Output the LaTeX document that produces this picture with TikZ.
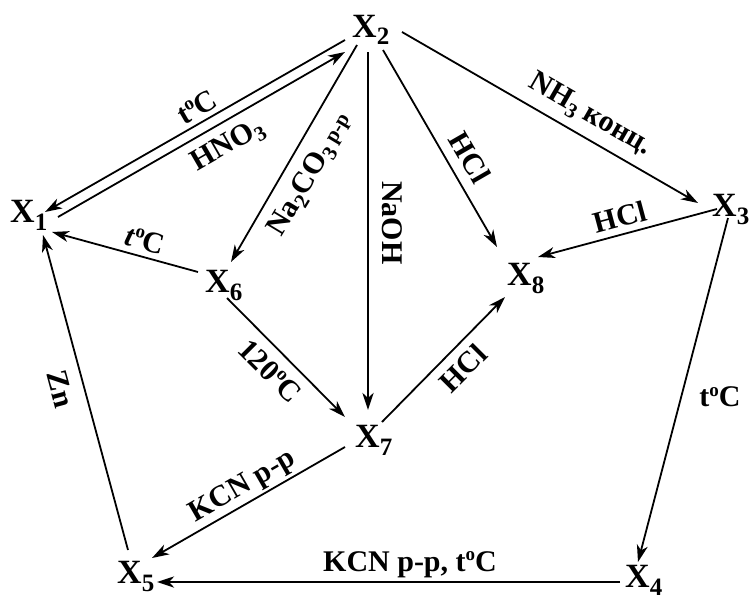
\documentclass[tikz,border=0pt]{standalone}
\usepackage{fontspec}
\setmainfont{Liberation Serif}
\usetikzlibrary{arrows.meta}
% species label X_n
\newcommand{\xsub}[1]{X\raisebox{-8pt}{\fontsize{25}{25}\selectfont #1}}
% subscript inside a reagent label
\newcommand{\lsub}[1]{\raisebox{-6pt}{\fontsize{21}{21}\selectfont #1}}
% small raised "o" of a temperature
\newcommand{\degc}{\raisebox{10.5pt}{\fontsize{19}{19}\selectfont o}C}
\newcommand{\smtext}[1]{{\fontsize{21}{21}\selectfont #1}}

\begin{document}
\begin{tikzpicture}[x=1pt,y=-1pt,
  species/.style={inner sep=0pt, anchor=base west, font=\bfseries\fontsize{34}{34}\selectfont},
  cond/.style={inner sep=0pt, font=\bfseries\fontsize{30}{30}\selectfont},
  rxn/.style={line width=1.8pt, -{Stealth[length=17pt,width=11pt,inset=5pt]}},
  rxnbold/.style={rxn, line width=2.8pt}]

\useasboundingbox (0,0) rectangle (750,597);

% species
\node[species] (X1) at (10,222) {\xsub{1}};
\node[species] (X2) at (352,37) {\xsub{2}};
\node[species] (X3) at (712,216) {\xsub{3}};
\node[species] (X4) at (625,587) {\xsub{4}};
\node[species] (X5) at (117,583) {\xsub{5}};
\node[species] (X6) at (205,292) {\xsub{6}};
\node[species] (X7) at (355,447) {\xsub{7}};
\node[species] (X8) at (507,285) {\xsub{8}};

% reactions
\draw[rxn] ([shift={(-7,3)}]X2.base west) -- ([shift={(35,-10)}]X1.base west);
\draw[rxn] ([shift={(48,-5)}]X1.base west) -- ([shift={(-7,15)}]X2.base west);
\draw[rxn] ([shift={(5,8)}]X2.base west) -- ([shift={(26,-30)}]X6.base west);
\draw[rxnbold] ([shift={(16,15)}]X2.base west) -- ([shift={(13,-37)}]X7.base west);
\draw[rxn] ([shift={(31,13)}]X2.base west) -- ([shift={(-10,-38)}]X8.base west);
\draw[rxn] ([shift={(50,-5)}]X2.base west) -- ([shift={(-14,-13)}]X3.base west);
\draw[rxn] ([shift={(5,-7)}]X3.base west) -- ([shift={(31,-28)}]X8.base west);
\draw[rxn] ([shift={(16,2)}]X3.base west) -- ([shift={(13,-25)}]X4.base west);
\draw[rxnbold] ([shift={(-5,-5)}]X4.base west) -- ([shift={(40,-1)}]X5.base west);
\draw[rxn] ([shift={(11,-33)}]X5.base west) -- ([shift={(33,13)}]X1.base west);
\draw[rxn] ([shift={(-10,0)}]X7.base west) -- ([shift={(35,-25)}]X5.base west);
\draw[rxn] ([shift={(-7,-20)}]X6.base west) -- ([shift={(42,10)}]X1.base west);
\draw[rxn] ([shift={(22,6)}]X6.base west) -- ([shift={(-10,-30)}]X7.base west);
\draw[rxn] ([shift={(27,-25)}]X7.base west) -- ([shift={(-2,12)}]X8.base west);

% reagents and conditions
\node[cond, rotate=30] (c21) at (197,107) {t\degc};
\node[cond, rotate=30] (c12) at (228,146) {HNO\lsub{3}};
\node[cond, rotate=59] (c26) at (311,175) {Na\lsub{2}CO\lsub{3}\,\raisebox{2pt}{\smtext{р-р}}};
\node[cond, rotate=-90] (c27) at (392,223) {NaOH};
\node[cond, rotate=-60] (c28) at (470,157) {HCl};
\node[cond, rotate=-30] (c23) at (590,115) {NH\lsub{3} конц.};
\node[cond, rotate=15] (c38) at (620,217) {HCl};
\node[cond] (c34) at (720,397) {t\degc};
\node[cond, anchor=base] (c45) at (410,571) {KCN р-р, t\degc};
\node[cond, rotate=30] (c75) at (243,487) {KCN р-р};
\node[cond, rotate=-75] (c51) at (61,389) {Zn};
\node[cond, rotate=-15] (c61) at (145,240) {\textit{t}\degc};
\node[cond, rotate=-45] (c67) at (270,371) {120\degc};
\node[cond, rotate=45] (c78) at (463,368) {HCl};
\end{tikzpicture}
\end{document}
